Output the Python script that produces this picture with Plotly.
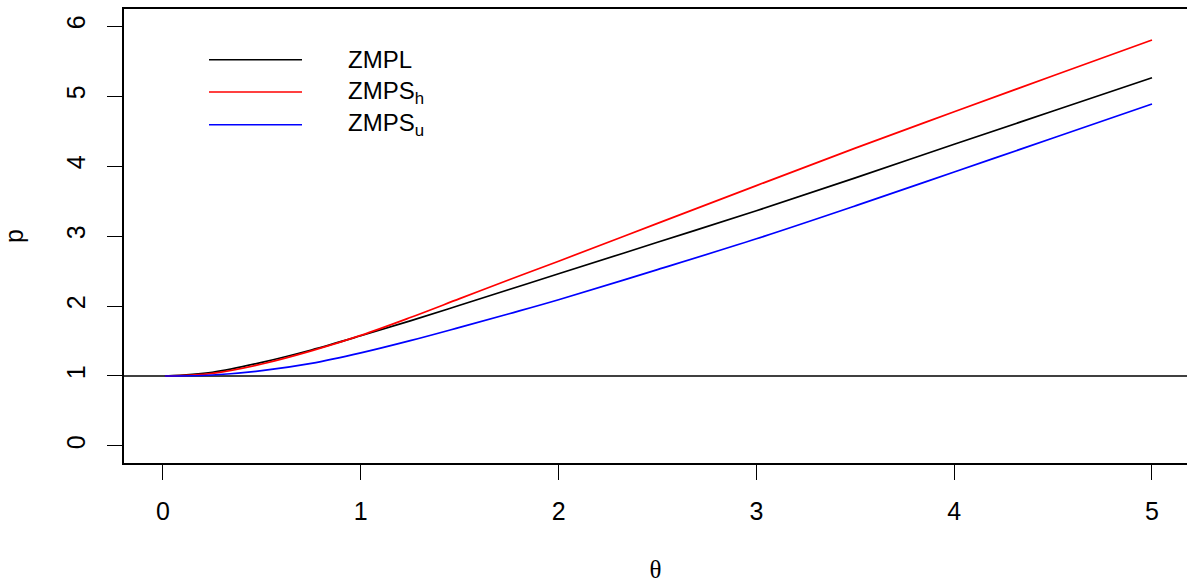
import plotly.graph_objects as go

theta = [0.01, 0.25, 0.5, 0.75, 1.0, 1.25, 1.5, 1.75, 2.0, 2.5, 3.0, 3.5, 4.0, 4.5, 5.0]
p_zmpl = [1.0, 1.053, 1.195, 1.372, 1.575, 1.787, 2.01, 2.235, 2.46, 2.91, 3.36, 3.83, 4.31, 4.785, 5.26]
p_zmps_h = [1.0, 1.038, 1.171, 1.358, 1.58, 1.835, 2.105, 2.375, 2.64, 3.18, 3.72, 4.255, 4.775, 5.29, 5.80]
p_zmps_u = [1.0, 1.014, 1.076, 1.18, 1.33, 1.505, 1.695, 1.89, 2.09, 2.52, 2.96, 3.43, 3.915, 4.40, 4.886]

series_names = ["ZMPL", "ZMPS<sub>h</sub>", "ZMPS<sub>u</sub>"]
series_colors = ["black", "red", "blue"]
x_ticks = [0, 1, 2, 3, 4, 5]
y_ticks = [0, 1, 2, 3, 4, 5, 6]

FONT = "Liberation Sans, Arial, sans-serif"

fig = go.Figure()
for ys, name, col in zip([p_zmpl, p_zmps_h, p_zmps_u], series_names, series_colors):
    fig.add_trace(go.Scatter(x=theta, y=ys, mode="lines", name=name,
                             line=dict(color=col, width=1.7, shape="spline", smoothing=1.0),
                             showlegend=False))

# horizontal reference line at p = 1
fig.add_shape(type="line", xref="paper", yref="y", x0=0, x1=1, y0=1, y1=1,
              line=dict(color="black", width=1.5), layer="below")

# manual legend (long line samples as in the reference)
leg_y = [0.888, 0.817, 0.745]
for yy, name, col in zip(leg_y, series_names, series_colors):
    fig.add_shape(type="line", xref="paper", yref="paper",
                  x0=(209 - 124) / 1063, x1=(302 - 124) / 1063, y0=yy, y1=yy,
                  line=dict(color=col, width=1.5))
    fig.add_annotation(xref="paper", yref="paper", x=(346 - 124) / 1063, y=yy,
                       text=name, showarrow=False, xanchor="left", yanchor="middle",
                       font=dict(family=FONT, size=24, color="black"))

fig.update_layout(
    width=1187, height=583,
    margin=dict(l=124, r=0, t=9, b=120),
    plot_bgcolor="white", paper_bgcolor="white",
    font=dict(family=FONT, size=24, color="black"),
    xaxis=dict(range=[-0.197, 5.177], tickvals=x_ticks, ticktext=[str(v) for v in x_ticks],
               showgrid=False, zeroline=False, showline=True, linecolor="black", linewidth=1.5,
               mirror=True, ticks="outside", ticklen=15, tickwidth=1.3, tickcolor="black",
               ticklabelstandoff=10,
               tickfont=dict(family=FONT, size=25),
               title=dict(text="θ", font=dict(family="Liberation Serif, Times New Roman, serif", size=25),
                          standoff=42)),
    yaxis=dict(range=[-0.243, 6.243], tickvals=y_ticks, ticktext=[str(v) for v in y_ticks],
               showgrid=False, zeroline=False, showline=True, linecolor="black", linewidth=1.5,
               mirror=False, ticks="outside", ticklen=15, tickwidth=1.3, tickcolor="black",
               tickangle=-90, ticklabelstandoff=12,
               tickfont=dict(family=FONT, size=25),
               title=dict(text="p", font=dict(family=FONT, size=25), standoff=38)),
)

fig.write_html("out.html")
